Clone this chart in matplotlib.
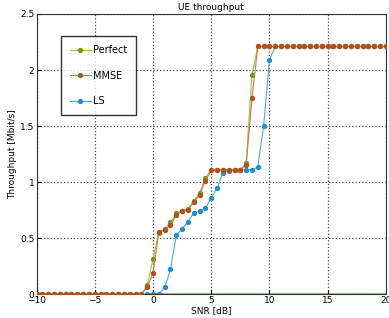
import numpy as np
import matplotlib.pyplot as plt

# SNR grid in dB
snr = np.arange(-10, 20.5, 0.5)

# throughput values (Mbit/s), from -0.5 dB upward
perfect_mid = [0.08, 0.31, 0.55, 0.58, 0.64, 0.72, 0.745, 0.76, 0.835, 0.90, 1.035,
               1.11, 1.11, 1.11, 1.11, 1.11, 1.11, 1.17, 1.96]
mmse_mid = [0.06, 0.19, 0.555, 0.57, 0.615, 0.705, 0.74, 0.755, 0.82, 0.885, 1.01,
            1.11, 1.11, 1.11, 1.11, 1.11, 1.11, 1.15, 1.75]
ls_mid = [0.0, 0.0, 0.0, 0.06, 0.22, 0.525, 0.585, 0.645, 0.725, 0.74, 0.765,
          0.86, 0.945, 1.085, 1.10, 1.11, 1.11, 1.11, 1.11, 1.135, 1.50, 2.09]

perfect = [0.0] * 19 + perfect_mid + [2.21] * 23
mmse = [0.0] * 19 + mmse_mid + [2.21] * 23
ls = [0.0] * 19 + ls_mid + [2.21] * 20

fig = plt.figure(figsize=(3.89, 3.18), dpi=100)
ax = fig.add_axes([0.094, 0.075, 0.898, 0.881])

ax.plot(snr[19:], np.zeros(len(snr[19:])), color='#7CC576', lw=1.2, zorder=1)
ax.plot(snr, perfect, '-o', color='#8DC63F', mfc='#6A9A1F', mec='#6A9A1F',
        ms=2.8, lw=0.8, label='Perfect', zorder=3)
ax.plot(snr, mmse, '-o', color='#D8704A', mfc='#B5501C', mec='#B5501C',
        ms=2.8, lw=0.8, label='MMSE', zorder=4)
ax.plot(snr, ls, '-o', color='#4FA8DE', mfc='#1E8FD5', mec='#1E8FD5',
        ms=2.8, lw=0.8, label='LS', zorder=2)

ax.set_xlim(-10, 20)
ax.set_ylim(0, 2.5)
ax.set_xticks([-10, -5, 0, 5, 10, 15, 20])
ax.set_yticks([0, 0.5, 1, 1.5, 2, 2.5])
ax.set_yticklabels(['0', '0.5', '1', '1.5', '2', '2.5'])
ax.tick_params(labelsize=6.5, length=3, direction='in', pad=1.5)
ax.grid(True, linestyle=':', color='#444444', lw=0.9)
ax.set_xlabel('SNR [dB]', fontsize=6.5, labelpad=1)
ax.set_ylabel('Throughput [Mbit/s]', fontsize=6.5, labelpad=2)
ax.set_title('UE throughput', fontsize=6.5, pad=3)
for s in ax.spines.values():
    s.set_color('#333333')
    s.set_linewidth(0.8)

leg = ax.legend(loc='upper left', bbox_to_anchor=(0.07, 0.92), fontsize=7,
                frameon=True, fancybox=False, edgecolor='black',
                labelspacing=1.6, handlelength=2.2, handletextpad=0.2,
                borderpad=0.9, borderaxespad=0)
leg.get_frame().set_linewidth(1.0)

fig.savefig('out.png', dpi=100)
